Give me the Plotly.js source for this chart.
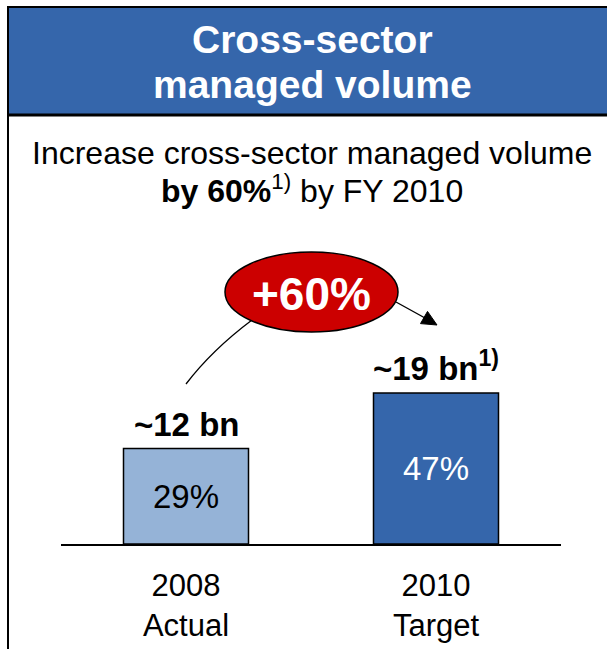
<!DOCTYPE html>
<html>
<head>
<meta charset="utf-8">
<script src="https://cdn.plot.ly/plotly-3.0.1.min.js"></script>
<style>html,body{margin:0;padding:0;background:#fff;}#chart{width:607px;height:649px;}</style>
</head>
<body>
<div id="chart"></div>
<script>
// ---- data ----
var categories = ["2008<br>Actual", "2010<br>Target"];
var volumes = [12, 19];                       // bn, bar heights
var volumeLabels = ["~12 bn", "~19 bn<sup>1)</sup>"];
var shareLabels = ["29%", "47%"];
var titleLines = ["Cross-sector", "managed volume"];
var subtitleLines = ["Increase cross-sector managed volume", "<b>by 60%</b><sup>1)</sup> by FY 2010"];
var growthLabel = "+60%";

// ---- style ----
var FONT = "Arial, 'Liberation Sans', sans-serif";
var BLUE = "#3566AB";
var LIGHT = "#95B3D7";
var RED = "#CC0000";
var W = 607, H = 649;
function px(x) { return x / W; }
function py(y) { return 1 - y / H; }

var trace = {
  type: "bar",
  x: categories,
  y: volumes,
  text: shareLabels,
  textposition: "inside",
  insidetextanchor: "middle",
  constraintext: "none",
  textangle: 0,
  textfont: { family: FONT, size: 33, color: ["#000000", "#FFFFFF"] },
  marker: { color: [LIGHT, BLUE], line: { color: "#000000", width: 1.5 } },
  hoverinfo: "none",
  cliponaxis: false
};

var annotations = [];
// header title lines
var titleY = [53, 98];
titleLines.forEach(function (t, i) {
  annotations.push({ xref: "paper", yref: "paper", x: px(312), y: py(titleY[i] - 0.3465 * 39),
    xanchor: "center", yanchor: "middle", showarrow: false, text: "<b>" + t + "</b>",
    font: { family: FONT, size: 39, color: "#FFFFFF" } });
});
// subtitle lines
var subY = [164, 200];
subtitleLines.forEach(function (t, i) {
  annotations.push({ xref: "paper", yref: "paper", x: px(312), y: py(subY[i] - 0.3465 * 32),
    xanchor: "center", yanchor: "middle", showarrow: false, text: t,
    font: { family: FONT, size: 32, color: "#000000" } });
});
// value labels above bars
categories.forEach(function (c, i) {
  annotations.push({ xref: "x", yref: "y", x: c, y: volumes[i], yanchor: "bottom", yshift: 4,
    showarrow: false, text: "<b>" + volumeLabels[i] + "</b>",
    font: { family: FONT, size: 33, color: "#000000" } });
});
// +60% label in ellipse
annotations.push({ xref: "paper", yref: "paper", x: px(311), y: py(310 - 0.3465 * 46),
  xanchor: "center", yanchor: "middle", showarrow: false, text: "<b>" + growthLabel + "</b>",
  font: { family: FONT, size: 46, color: "#FFFFFF" } });

var shapes = [
  // header block
  { type: "rect", xref: "paper", yref: "paper", x0: px(8), x1: px(620), y0: py(115), y1: py(7),
    fillcolor: BLUE, line: { width: 0 }, layer: "below" },
  { type: "line", xref: "paper", yref: "paper", x0: px(7), x1: px(620), y0: py(7), y1: py(7),
    line: { color: "#000000", width: 2 } },
  { type: "line", xref: "paper", yref: "paper", x0: px(8), x1: px(620), y0: py(115), y1: py(115),
    line: { color: "#000000", width: 3 } },
  { type: "line", xref: "paper", yref: "paper", x0: px(8), x1: px(8), y0: py(6), y1: py(660),
    line: { color: "#000000", width: 2 } },
  // curve from actual bar to ellipse
  { type: "path", xref: "paper", yref: "paper",
    path: "M" + px(186) + "," + py(384) + " Q" + px(212) + "," + py(350) + " " + px(252) + "," + py(320),
    line: { color: "#000000", width: 1.3 } },
  // arrow shaft from ellipse toward target bar
  { type: "line", xref: "paper", yref: "paper", x0: px(396), y0: py(302), x1: px(425), y1: py(318),
    line: { color: "#000000", width: 1.3 } },
  // arrow head
  { type: "path", xref: "paper", yref: "paper",
    path: "M" + px(437) + "," + py(325) + " L" + px(420.5) + "," + py(323.6) + " L" + px(427.5) + "," + py(311.4) + " Z",
    fillcolor: "#000000", line: { color: "#000000", width: 1 } },
  // ellipse
  { type: "circle", xref: "paper", yref: "paper", x0: px(225), x1: px(398), y0: py(332), y1: py(252),
    fillcolor: RED, line: { color: "#000000", width: 1.5 } }
];

var layout = {
  width: W, height: H,
  margin: { l: 0, r: 0, t: 0, b: 0 },
  paper_bgcolor: "#FFFFFF", plot_bgcolor: "rgba(0,0,0,0)",
  showlegend: false,
  bargap: 0.5,
  xaxis: {
    domain: [px(61), px(561)],
    type: "category",
    showline: true, linecolor: "#000000", linewidth: 1.5,
    showgrid: false, zeroline: false,
    ticks: "outside", ticklen: 13, tickcolor: "rgba(0,0,0,0)",
    tickfont: { family: FONT, size: 31, color: "#000000" },
    fixedrange: true
  },
  yaxis: {
    domain: [py(544), py(226)],
    range: [0, 40],
    visible: false, showgrid: false, zeroline: false, fixedrange: true
  },
  annotations: annotations,
  shapes: shapes,
  font: { family: FONT }
};

Plotly.newPlot("chart", [trace], layout, { displayModeBar: false, staticPlot: true });
</script>
</body>
</html>
